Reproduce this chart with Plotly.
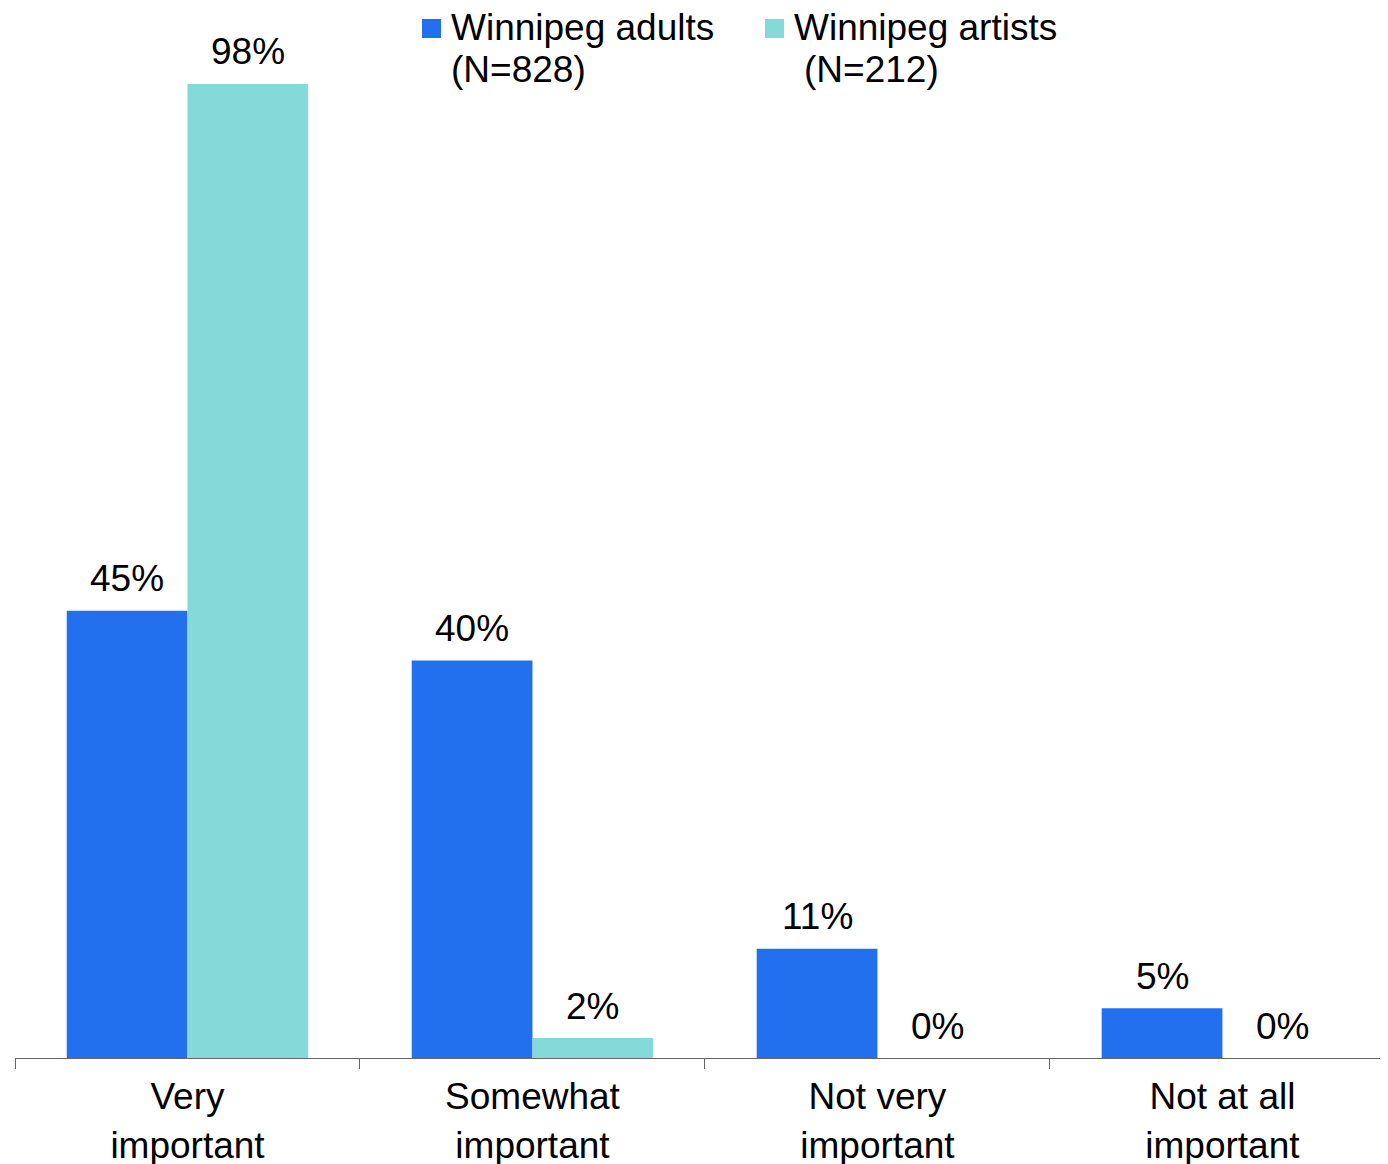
import plotly.graph_objects as go

categories = ["Very<br>important", "Somewhat<br>important", "Not very<br>important", "Not at all<br>important"]
series_names = ["Winnipeg adults<br>(N=828)", "Winnipeg artists<br>(N=212)"]
adults = [45, 40, 11, 5]
artists = [98, 2, 0, 0]
colors = ["#2370EE", "#84D9D9"]

# the page body adds an 8px offset; compensate
OFF = 8
W, H = 1388 - OFF, 1164 - OFF
L, R, T, B = 15 - OFF, 0, 20 - OFF, 106
pw, ph = W - L - R, H - T - B

def fx(px):  # page px -> paper
    return (px - OFF - L) / pw

def fy(py):
    return (H - B - (py - OFF)) / ph

FONT = "Liberation Sans, Arial, sans-serif"
FS = 37
XMAX = 3.48
BARGAP = 0.3
cat_px = pw / (XMAX + 0.5)
bar_px = cat_px * (1 - BARGAP) / 2

fig = go.Figure()
for k, (name, vals, col) in enumerate(zip(series_names, [adults, artists], colors)):
    fig.add_trace(go.Bar(
        x=categories, y=vals, name=name, marker=dict(color=col, line=dict(width=0)),
        cliponaxis=False, showlegend=False,
    ))
    shift = (k - 0.5) * bar_px
    for c, v in zip(categories, vals):
        fig.add_annotation(x=c, y=v, xref="x", yref="y", text=f"{v}%", showarrow=False,
                           xanchor="center", yanchor="middle", xshift=shift, yshift=32,
                           font=dict(size=FS, color="black", family=FONT))

# manual legend
leg_x = [422, 765]
line2_off = [0, 10]
for i, (name, col) in enumerate(zip(series_names, colors)):
    x0 = leg_x[i]
    fig.add_shape(type="rect", xref="paper", yref="paper",
                  x0=fx(x0), x1=fx(x0 + 19), y0=fy(38), y1=fy(19),
                  fillcolor=col, line=dict(width=0))
    lines = name.split("<br>")
    for j, line in enumerate(lines):
        fig.add_annotation(xref="paper", yref="paper", x=fx(x0 + 27 + (line2_off[i] if j else 0)), y=fy(28 + 42 * j),
                           xanchor="left", yanchor="middle", text=line, showarrow=False,
                           font=dict(size=FS, color="black", family=FONT))

fig.update_layout(
    width=W, height=H,
    margin=dict(l=L, r=R, t=T, b=B, pad=0, autoexpand=False),
    plot_bgcolor="white", paper_bgcolor="white",
    barmode="group", bargap=BARGAP, bargroupgap=0,
    font=dict(family=FONT, size=FS, color="black"),
    xaxis=dict(
        range=[-0.5, XMAX], tickson="boundaries", ticks="outside", ticklen=10,
        tickcolor="#666666", tickwidth=1, showline=True, linecolor="#666666", linewidth=1,
        tickfont=dict(size=FS, color="black", family=FONT), showgrid=False,
        automargin=False, ticklabelstandoff=6,
    ),
    yaxis=dict(range=[0, ph / 9.94], visible=False, showgrid=False, zeroline=False, automargin=False),
)

fig.write_html("out.html")
